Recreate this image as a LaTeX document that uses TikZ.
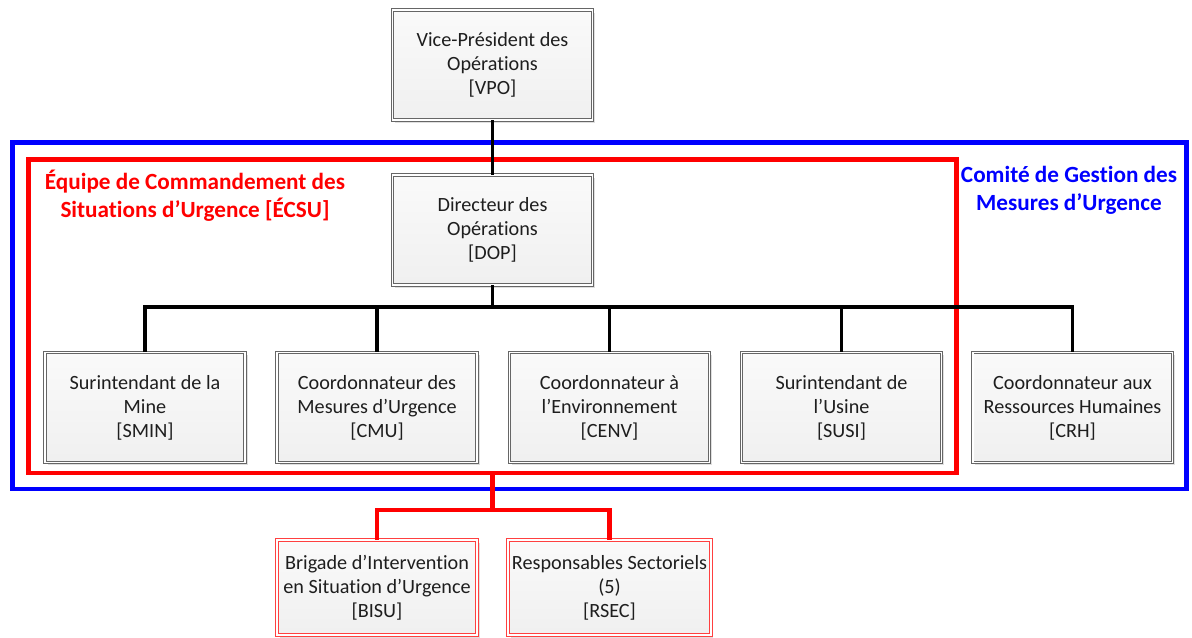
\documentclass[tikz,border=0pt]{standalone}
\usepackage{fontspec}
\setmainfont{Carlito}[RawFeature={-liga;-clig;-calt}]
\usepackage{tikz}
\usetikzlibrary{positioning}
\usetikzlibrary{shadows}
\definecolor{framblue}{RGB}{0,0,255}
\definecolor{framred}{RGB}{255,0,0}
\definecolor{boxtext}{RGB}{30,30,30}
\tikzset{
    post/.style={draw=black!60, double=white, double distance=1.1pt, line width=0.55pt,
        top color=gray!4, bottom color=gray!12, text=boxtext, align=center,
        minimum width=4cm, minimum height=2.2cm, inner sep=2pt,
        font=\fontsize{11.5}{13.6}\selectfont,
        drop shadow={shadow xshift=1.5pt, shadow yshift=-1.5pt, opacity=0.25, fill=gray}},
    redpost/.style={post, draw=framred!75, minimum height=1.9cm},
    tie/.style={draw=black, line width=2.2pt},
    redtie/.style={draw=framred, line width=2.8pt},
    bluefram/.style={draw=framblue, line width=2.8pt, minimum width=23.5cm, minimum height=6.94cm},
    redfram/.style={draw=framred, line width=2.8pt, minimum width=18.58cm, minimum height=6.28cm},
    framlabel/.style={align=center, font=\fontsize{13.2}{15.9}\selectfont\bfseries},
}

\begin{document}
\begin{tikzpicture}[x=0.02cm, y=-0.02cm]
	\useasboundingbox (0,0) rectangle (1192,637);
	% frames
	\node[bluefram] (cgmu) at (599.5,315.5) {};
	\node[redfram] (ecsu) at (492.5,316) {};
	\node[framlabel, text=framred] (ecsulab) at (195,196) {Équipe de Commandement des\\Situations d’Urgence [ÉCSU]};
	\node[framlabel, text=framblue] (cgmulab) at (1069,190) {Comité de Gestion des\\Mesures d’Urgence};
	% posts
	\node[post] (vpo) at (492.5,65) {Vice-Président des\\Opérations\\{[VPO]}};
	\node[post] (dop) at (492.5,230) {Directeur des\\Opérations\\{[DOP]}};
	\node[post] (smin) at (145,407.5) {Surintendant de la\\Mine\\{[SMIN]}};
	\node[post] (cmu) at (377,407.5) {Coordonnateur des\\Mesures d’Urgence\\{[CMU]}};
	\node[post] (cenv) at (609.5,407.5) {Coordonnateur à\\l’Environnement\\{[CENV]}};
	\node[post] (susi) at (841.5,407.5) {Surintendant de\\l’Usine\\{[SUSI]}};
	\node[post] (crh) at (1072.5,407.5) {Coordonnateur aux\\Ressources Humaines\\{[CRH]}};
	\node[redpost] (bisu) at (377,587.5) {Brigade d’Intervention\\en Situation d’Urgence\\{[BISU]}};
	\node[redpost] (rsec) at (609.5,587.5) {Responsables Sectoriels\\(5)\\{[RSEC]}};
	% connectors
	\coordinate (bus) at (492.5,307);
	\coordinate (rbus) at (492.5,510);
	\draw[tie] (vpo) -- (dop);
	\draw[tie] (dop) -- (bus);
	\foreach \n in {smin,cmu,cenv,susi,crh}
		\draw[tie] (bus) -| (\n.north);
	\draw[redtie] (ecsu.south) -- (rbus);
	\draw[redtie] (rbus) -| (bisu.north);
	\draw[redtie] (rbus) -| (rsec.north);
\end{tikzpicture}
\end{document}
